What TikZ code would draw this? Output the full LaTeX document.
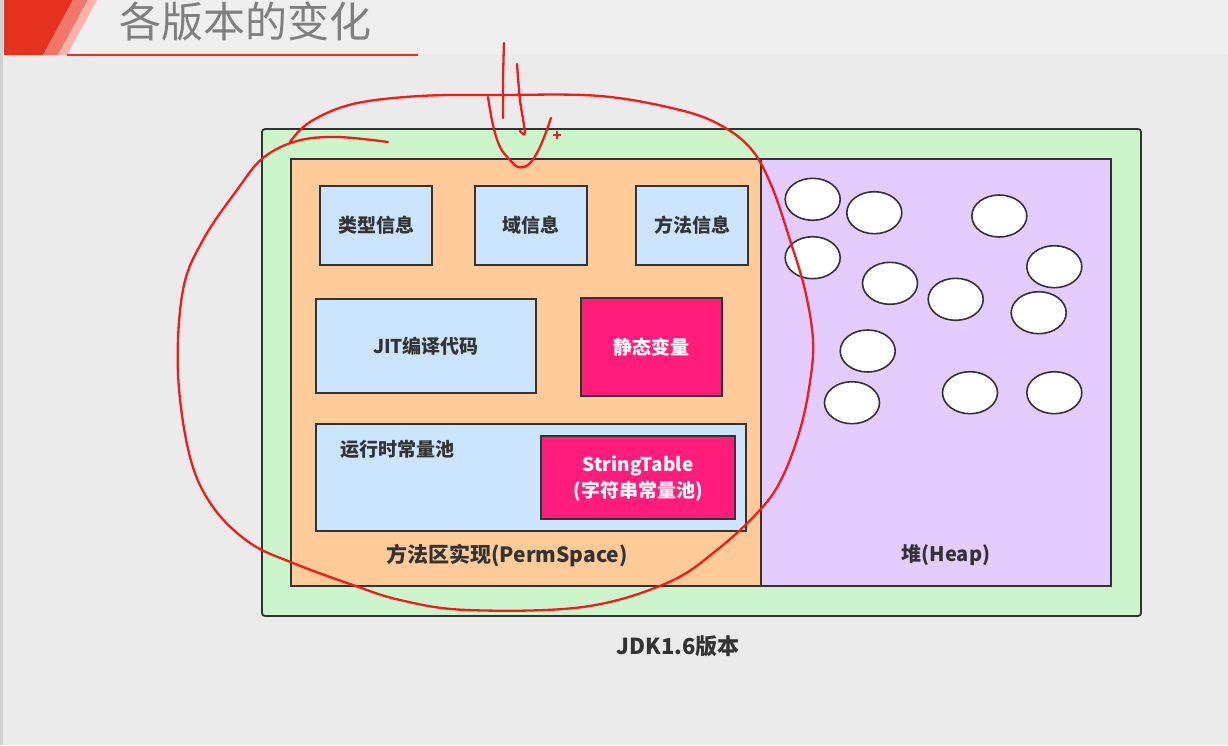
\documentclass[tikz,border=0pt]{standalone}
\usepackage{fontspec}
\setmainfont{Noto Sans CJK SC}
\usetikzlibrary{shapes.geometric}
\definecolor{bgc}{HTML}{EBEBEB}
\definecolor{topc}{HTML}{EFEFEF}
\definecolor{greenc}{HTML}{CCF5CC}
\definecolor{orangec}{HTML}{FFCC99}
\definecolor{bluec}{HTML}{CCE5FF}
\definecolor{pinkc}{HTML}{FF1C7A}
\definecolor{purplec}{HTML}{E5CCFF}
\definecolor{edgec}{HTML}{333333}
\definecolor{textc}{HTML}{333333}
\definecolor{titlec}{HTML}{7F7F7F}
\definecolor{hdred}{HTML}{E5321F}
\definecolor{hdsalmon}{HTML}{F2776A}
\definecolor{hdpink}{HTML}{F9B4AA}
\definecolor{penred}{HTML}{F21A1A}
\tikzset{
  area/.style={draw=edgec, line width=1.8pt, inner sep=0pt},
  infobox/.style={area, fill=bluec, font=\fontsize{19}{23}\selectfont\bfseries, text=textc},
  hotbox/.style={area, fill=pinkc, font=\fontsize{19}{23}\selectfont\bfseries, text=white, align=center},
  lbl/.style={inner sep=0pt, text=textc, font=\fontsize{19}{23}\selectfont\bfseries},
  obj/.style={ellipse, draw=edgec, line width=1.6pt, fill=white, minimum width=55pt, minimum height=42pt, inner sep=0pt},
  pen/.style={draw=penred, line width=2.3pt, line cap=round, line join=round}
}
\begin{document}
\begin{tikzpicture}[x=1pt,y=-1pt]
\useasboundingbox (0,0) rectangle (1228,745);
\fill[bgc] (0,0) rectangle (1228,745);
\fill[topc] (0,0) rectangle (1228,55);
\fill[black!18] (0,0) rectangle (3,745);
% header
\fill[hdred] (4,0) -- (73,0) -- (43,55) -- (4,55) -- cycle;
\fill[hdsalmon] (73,0) -- (88,0) -- (58,55) -- (43,55) -- cycle;
\fill[hdpink] (88,0) -- (97,0) -- (67,55) -- (58,55) -- cycle;
\draw[hdred, line width=1.6pt] (67,55) -- (418,55);
\node[inner sep=0pt, text=titlec, font=\fontsize{42}{46}\selectfont] (title) at (245,21) {各版本的变化};
% containers
\node[area, fill=greenc, rounded corners=3pt, minimum width=879pt, minimum height=487pt] (jvm) at (701.5,372.5) {};
\node[area, fill=orangec, minimum width=470pt, minimum height=427pt] (perm) at (526,372.5) {};
\node[area, fill=purplec, minimum width=350pt, minimum height=427pt] (heap) at (936,372.5) {};
% method area contents
\node[infobox, minimum width=112pt, minimum height=79pt] (type) at (376,225.5) {类型信息};
\node[infobox, minimum width=112pt, minimum height=79pt] (field) at (531,225.5) {域信息};
\node[infobox, minimum width=112pt, minimum height=79pt] (method) at (692,225.5) {方法信息};
\node[infobox, minimum width=220pt, minimum height=94pt] (jit) at (426,346) {JIT编译代码};
\node[hotbox, minimum width=141pt, minimum height=98pt] (static) at (651.5,347) {静态变量};
\node[infobox, minimum width=430pt, minimum height=107pt] (rcp) at (531,477.5) {};
\node[hotbox, minimum width=194pt, minimum height=83pt] (strtab) at (638,477.5) {};
\node[inner sep=0pt, text=white, font=\fontsize{19}{23}\selectfont\bfseries] (strtab1) at (638,466) {StringTable};
\node[inner sep=0pt, text=white, font=\fontsize{19}{23}\selectfont\bfseries] (strtab2) at (638,491) {(字符串常量池)};
\node[lbl] (rcplbl) at (397,449) {运行时常量池};
\node[lbl, font=\fontsize{21}{25}\selectfont\bfseries] (permlbl) at (507,556) {方法区实现(PermSpace)};
\node[lbl, font=\fontsize{20}{24}\selectfont\bfseries] (heaplbl) at (946,555) {堆(Heap)};
\node[lbl, font=\fontsize{22}{26}\selectfont\bfseries] (caption) at (678,646) {JDK1.6版本};
% heap objects
\node[obj] (o1) at (812.7,199.3) {};
\node[obj] (o2) at (874.3,212.7) {};
\node[obj] (o3) at (999.3,216) {};
\node[obj] (o4) at (812.7,257.7) {};
\node[obj] (o5) at (1054.3,266.7) {};
\node[obj] (o6) at (890,283.3) {};
\node[obj] (o7) at (955.7,299.3) {};
\node[obj] (o8) at (1038.7,312.7) {};
\node[obj] (o9) at (867.7,351) {};
\node[obj] (o10) at (852,402.7) {};
\node[obj] (o11) at (970,392.7) {};
\node[obj] (o12) at (1054.3,392.7) {};
% hand-drawn annotations
\draw[pen] plot[smooth, tension=0.6] coordinates {
 (290,142) (310,122) (353,104) (420,96) (500,95) (600,96) (680,110) (722,126)
 (752,150) (772,187) (790,240) (805,290) (813,340) (810,382) (800,430)
 (782,478) (760,510) (717,550) (667,583) (583,607) (467,610) (400,600)
 (350,584) (293,563) (250,543) (213,507) (190,457) (178,373) (183,290)
 (203,240) (237,190) (263,158) (297,141) (337,137) (388,142)};
\draw[pen] plot[smooth] coordinates {(504,43) (503,80) (503,118)};
\draw[pen] plot[smooth] coordinates {(517,64) (520,100) (525,133) (520,131)};
\draw[pen] plot[smooth, tension=0.6] coordinates {(488,97) (493,125) (500,147) (510,160) (518,167) (528,165) (537,153) (545,135) (551,118)};
\draw[penred, line width=1.2pt] (553,135) -- (561,135) (557,131) -- (557,139);
\end{tikzpicture}
\end{document}
